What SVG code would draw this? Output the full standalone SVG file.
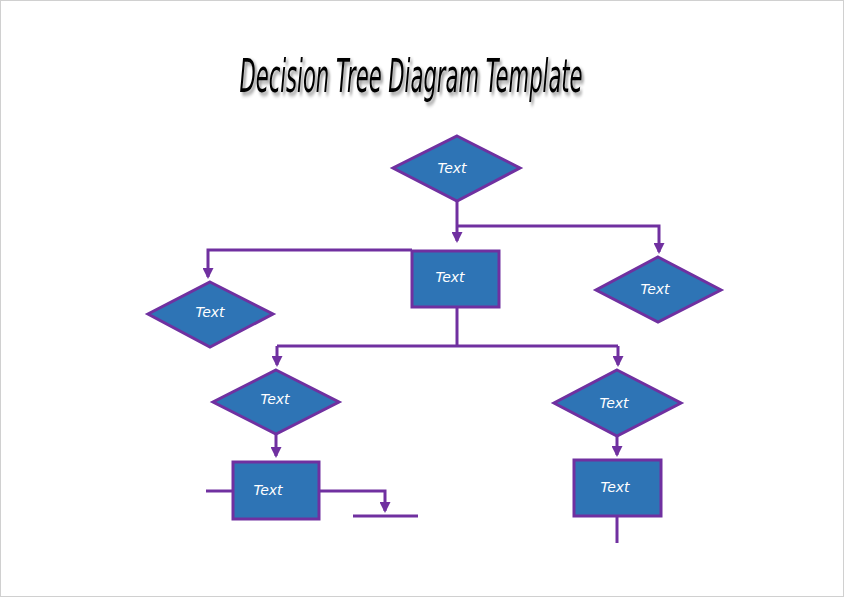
<svg xmlns="http://www.w3.org/2000/svg" width="844" height="597" viewBox="0 0 844 597">
<style>
.shape{fill:#2E74B5;stroke:#7030A0;stroke-width:3;stroke-linejoin:miter}
.lbl{font-family:"DejaVu Sans",sans-serif;font-style:italic;font-size:14px;fill:#ffffff;text-anchor:middle;dominant-baseline:central}
.ln{fill:none;stroke:#7030A0;stroke-width:3}
.title{font-family:"DejaVu Sans Condensed","DejaVu Sans",sans-serif;font-style:italic;font-size:46px;text-anchor:middle}
</style>
<defs>
<marker id="ad" markerWidth="11" markerHeight="11" refX="9" refY="5.5" orient="auto" markerUnits="userSpaceOnUse" viewBox="0 0 11 11">
<path d="M0,0 L11,5.5 L0,11 Z" fill="#7030A0"/>
</marker>
<filter id="shadow" x="-10%" y="-30%" width="120%" height="160%">
<feDropShadow dx="4" dy="3" stdDeviation="2" flood-color="#000000" flood-opacity="0.45"/>
</filter>
</defs>
<rect x="0.5" y="0.5" width="843" height="596" fill="#ffffff" stroke="#d0d0d0" stroke-width="1"/>
<g id="title">
<text transform="translate(411,92) scale(0.51,1)" x="0" y="0" class="title" fill="#000000" filter="url(#shadow)">Decision Tree Diagram Template</text>
</g>
<g id="connectors">
<path class="ln" d="M457,201 V241" marker-end="url(#ad)"/>
<path class="ln" d="M457,226 H659 V252" marker-end="url(#ad)"/>
<path class="ln" d="M412,250 H208 V277" marker-end="url(#ad)"/>
<path class="ln" d="M457,307 V346"/>
<path class="ln" d="M277,346 H618"/>
<path class="ln" d="M277,346 V365" marker-end="url(#ad)"/>
<path class="ln" d="M618,346 V365" marker-end="url(#ad)"/>
<path class="ln" d="M276,434 V456" marker-end="url(#ad)"/>
<path class="ln" d="M617,436 V455" marker-end="url(#ad)"/>
<path class="ln" d="M206,491 H233"/>
<path class="ln" d="M319,491 H385 V511" marker-end="url(#ad)"/>
<path class="ln" d="M353,516 H418"/>
<path class="ln" d="M617,516 V543"/>
</g>
<g id="n1"><polygon class="shape" points="457,136 520,168 457,201 393,168"/><text class="lbl" x="452" y="168">Text</text></g>
<g id="n2"><rect class="shape" x="412" y="251" width="87" height="56"/><text class="lbl" x="450" y="277">Text</text></g>
<g id="n3"><polygon class="shape" points="210,282 273,314 210,347 148,314"/><text class="lbl" x="210" y="312">Text</text></g>
<g id="n4"><polygon class="shape" points="658,257 721,290 658,322 596,290"/><text class="lbl" x="655" y="289">Text</text></g>
<g id="n5"><polygon class="shape" points="276,370 339,402 276,434 213,402"/><text class="lbl" x="275" y="399">Text</text></g>
<g id="n6"><polygon class="shape" points="617,370 681,403 617,436 554,403"/><text class="lbl" x="614" y="403">Text</text></g>
<g id="n7"><rect class="shape" x="233" y="462" width="86" height="57"/><text class="lbl" x="268" y="490">Text</text></g>
<g id="n8"><rect class="shape" x="574" y="460" width="87" height="56"/><text class="lbl" x="615" y="487">Text</text></g>
</svg>
